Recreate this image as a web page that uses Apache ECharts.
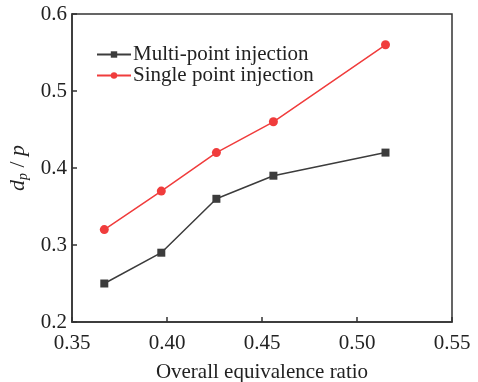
<!DOCTYPE html>
<html><head><meta charset="utf-8">
<script src="https://cdn.jsdelivr.net/npm/echarts@6/dist/echarts.min.js"></script>
<style>html,body{margin:0;padding:0;background:#fff}#c{width:478px;height:382px}</style>
</head><body><div id="c"></div>
<script>
const ratio = [0.367, 0.397, 0.426, 0.456, 0.515];
const multiPoint = [0.25, 0.29, 0.36, 0.39, 0.42];
const singlePoint = [0.32, 0.37, 0.42, 0.46, 0.56];
const xTicks = [0.35, 0.40, 0.45, 0.50, 0.55];
const yTicks = [0.2, 0.3, 0.4, 0.5, 0.6];
const names = ['Multi-point injection', 'Single point injection'];

const font = 'Liberation Serif';
const fs = 21;
const chart = echarts.init(document.getElementById('c'));
chart.setOption({
  animation: false,
  textStyle: {fontFamily: font},
  grid: {left: 72, right: 26, top: 14, bottom: 60, show: true, borderColor: '#333', borderWidth: 1.5,
         containLabel: false, outerBoundsMode: 'none'},
  legend: {
    orient: 'vertical', left: 91, top: 39, itemGap: 0, itemWidth: 34, itemHeight: 8,
    textStyle: {fontFamily: font, fontSize: fs, lineHeight: 20, color: '#222', padding: [0,0,0,-3]},
    data: names
  },
  xAxis: {
    type: 'value', min: xTicks[0], max: xTicks[xTicks.length-1], interval: 0.05,
    name: 'Overall equivalence ratio', nameLocation: 'middle', nameGap: 40,
    nameTextStyle: {fontFamily: font, fontSize: fs, color: '#222'},
    axisLine: {lineStyle: {color: '#333', width: 1.5}},
    axisTick: {inside: true, length: 5, lineStyle: {color: '#333', width: 1.5}},
    axisLabel: {fontFamily: font, fontSize: fs, color: '#222', margin: 11, formatter: v => v.toFixed(2)},
    splitLine: {show: false}
  },
  yAxis: {
    type: 'value', min: yTicks[0], max: yTicks[yTicks.length-1], interval: 0.1,
    name: '{i|d}{s|p}{n| / }{i|p}', nameLocation: 'middle', nameGap: 39, nameRotate: 90,
    nameTextStyle: {fontFamily: font, fontSize: 22, color: '#222',
      rich: {
        i: {fontFamily: font, fontSize: 22, fontStyle: 'italic', color: '#222'},
        s: {fontFamily: font, fontSize: 14, fontStyle: 'italic', color: '#222', verticalAlign: 'bottom', padding: [9,0,0,0]},
        n: {fontFamily: font, fontSize: 22, color: '#222'}
      }},
    axisLine: {lineStyle: {color: '#333', width: 1.5}},
    axisTick: {inside: true, length: 5, lineStyle: {color: '#333', width: 1.5}},
    axisLabel: {fontFamily: font, fontSize: fs, color: '#222', margin: 5, formatter: v => v.toFixed(1)},
    splitLine: {show: false}
  },
  series: [
    {name: names[0], type: 'line', data: ratio.map((x,i)=>[x, multiPoint[i]]),
     symbol: 'rect', symbolSize: 8, color: '#3c3c3c', lineStyle: {width: 1.5, color: '#3c3c3c'}, itemStyle: {color: '#3c3c3c'}},
    {name: names[1], type: 'line', data: ratio.map((x,i)=>[x, singlePoint[i]]),
     symbol: 'circle', symbolSize: 9, color: '#f03c3c', lineStyle: {width: 1.5, color: '#f03c3c'}, itemStyle: {color: '#f03c3c'}}
  ]
});
</script></body></html>
